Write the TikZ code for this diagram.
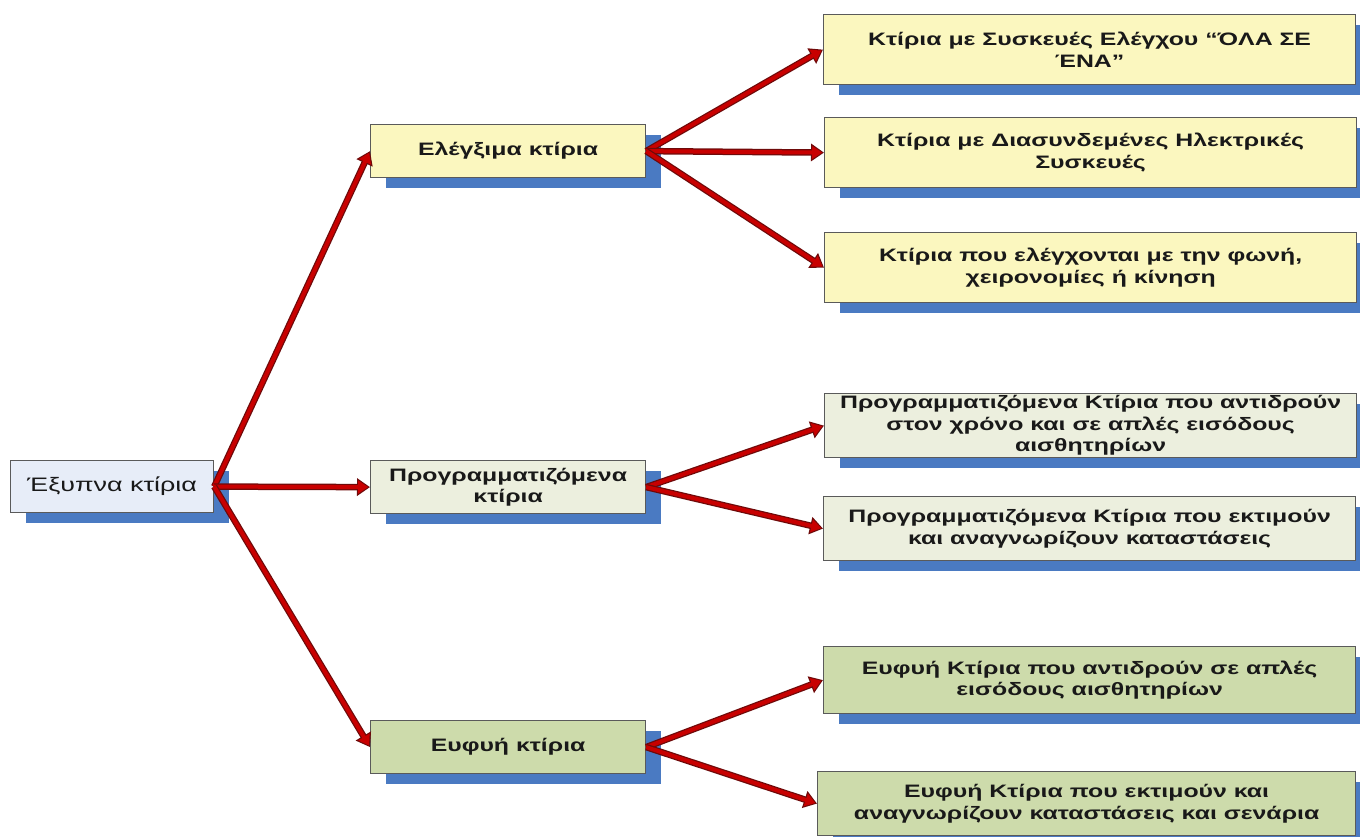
\documentclass[tikz,border=0pt]{standalone}
\usepackage{fontspec}
\setmainfont{Liberation Sans}[FakeStretch=1.38]
\usetikzlibrary{arrows.meta,shadows}
\definecolor{shblue}{HTML}{4A7AC2}
\definecolor{boxline}{HTML}{5A5A5A}
\definecolor{rootfill}{HTML}{E7EDF8}
\definecolor{yelfill}{HTML}{FBF7BF}
\definecolor{progfill}{HTML}{ECEFDE}
\definecolor{grnfill}{HTML}{CDDBAB}
\definecolor{arrdark}{HTML}{6E0A0A}
\definecolor{arrred}{HTML}{C80000}
\begin{document}
\begin{tikzpicture}[x=1pt,y=-1pt,
  box/.style={draw=boxline, line width=1.2pt, inner sep=0pt, anchor=north west,
    align=center, font=\fontsize{18}{21.5}\selectfont\bfseries, text=black!90,
    drop shadow={shadow xshift=15pt,shadow yshift=-10pt,fill=shblue,opacity=1}},
  rootbox/.style={box, fill=rootfill, font=\fontsize{19.5}{22}\selectfont, minimum width=203pt, minimum height=52pt},
  midbox/.style={box, minimum width=275pt, minimum height=53pt},
  rbox/.style={box, minimum width=532pt},
  arrout/.style={line width=6.5pt, draw=arrdark, -{Triangle[length=13pt,width=17pt]}},
  arrin/.style={line width=4pt, draw=arrred, shorten >=1.8pt, -{Triangle[length=10pt,width=12.5pt]}}]
\useasboundingbox (0,0) rectangle (1360,836);

\node[rootbox] (root) at (10,460) {Έξυπνα κτίρια};

\node[midbox, fill=yelfill] (ctl) at (370,124) {Ελέγξιμα κτίρια};
\node[midbox, fill=progfill] (prog) at (370,460) {Προγραμματιζόμενα\\κτίρια};
\node[midbox, fill=grnfill] (intel) at (370,720) {Ευφυή κτίρια};

\node[rbox, fill=yelfill, minimum height=70pt] (c1) at (823,14) {Κτίρια με Συσκευές Ελέγχου “ΌΛΑ ΣΕ\\ΈΝΑ”};
\node[rbox, fill=yelfill, minimum height=70pt] (c2) at (824,117) {Κτίρια με Διασυνδεμένες Ηλεκτρικές\\Συσκευές};
\node[rbox, fill=yelfill, minimum height=70pt] (c3) at (824,232) {Κτίρια που ελέγχονται με την φωνή,\\χειρονομίες ή κίνηση};
\node[rbox, fill=progfill, minimum height=64pt] (p1) at (824,393) {Προγραμματιζόμενα Κτίρια που αντιδρούν\\στον χρόνο και σε απλές εισόδους\\αισθητηρίων};
\node[rbox, fill=progfill, minimum height=64pt] (p2) at (823,496) {Προγραμματιζόμενα Κτίρια που εκτιμούν\\και αναγνωρίζουν καταστάσεις};
\node[rbox, fill=grnfill, minimum height=67pt] (i1) at (823,646) {Ευφυή Κτίρια που αντιδρούν σε απλές\\εισόδους αισθητηρίων};
\node[rbox, fill=grnfill, minimum height=64pt, minimum width=538pt] (i2) at (817,771) {Ευφυή Κτίρια που εκτιμούν και\\αναγνωρίζουν καταστάσεις και σενάρια};

\foreach \a/\b in {root/ctl, root/prog, root/intel, ctl/c1, ctl/c2, ctl/c3, prog/p1, prog/p2, intel/i1, intel/i2}{
  \draw[arrout] (\a.east) -- (\b.west);
  \draw[arrin] (\a.east) -- (\b.west);
}
\end{tikzpicture}
\end{document}
